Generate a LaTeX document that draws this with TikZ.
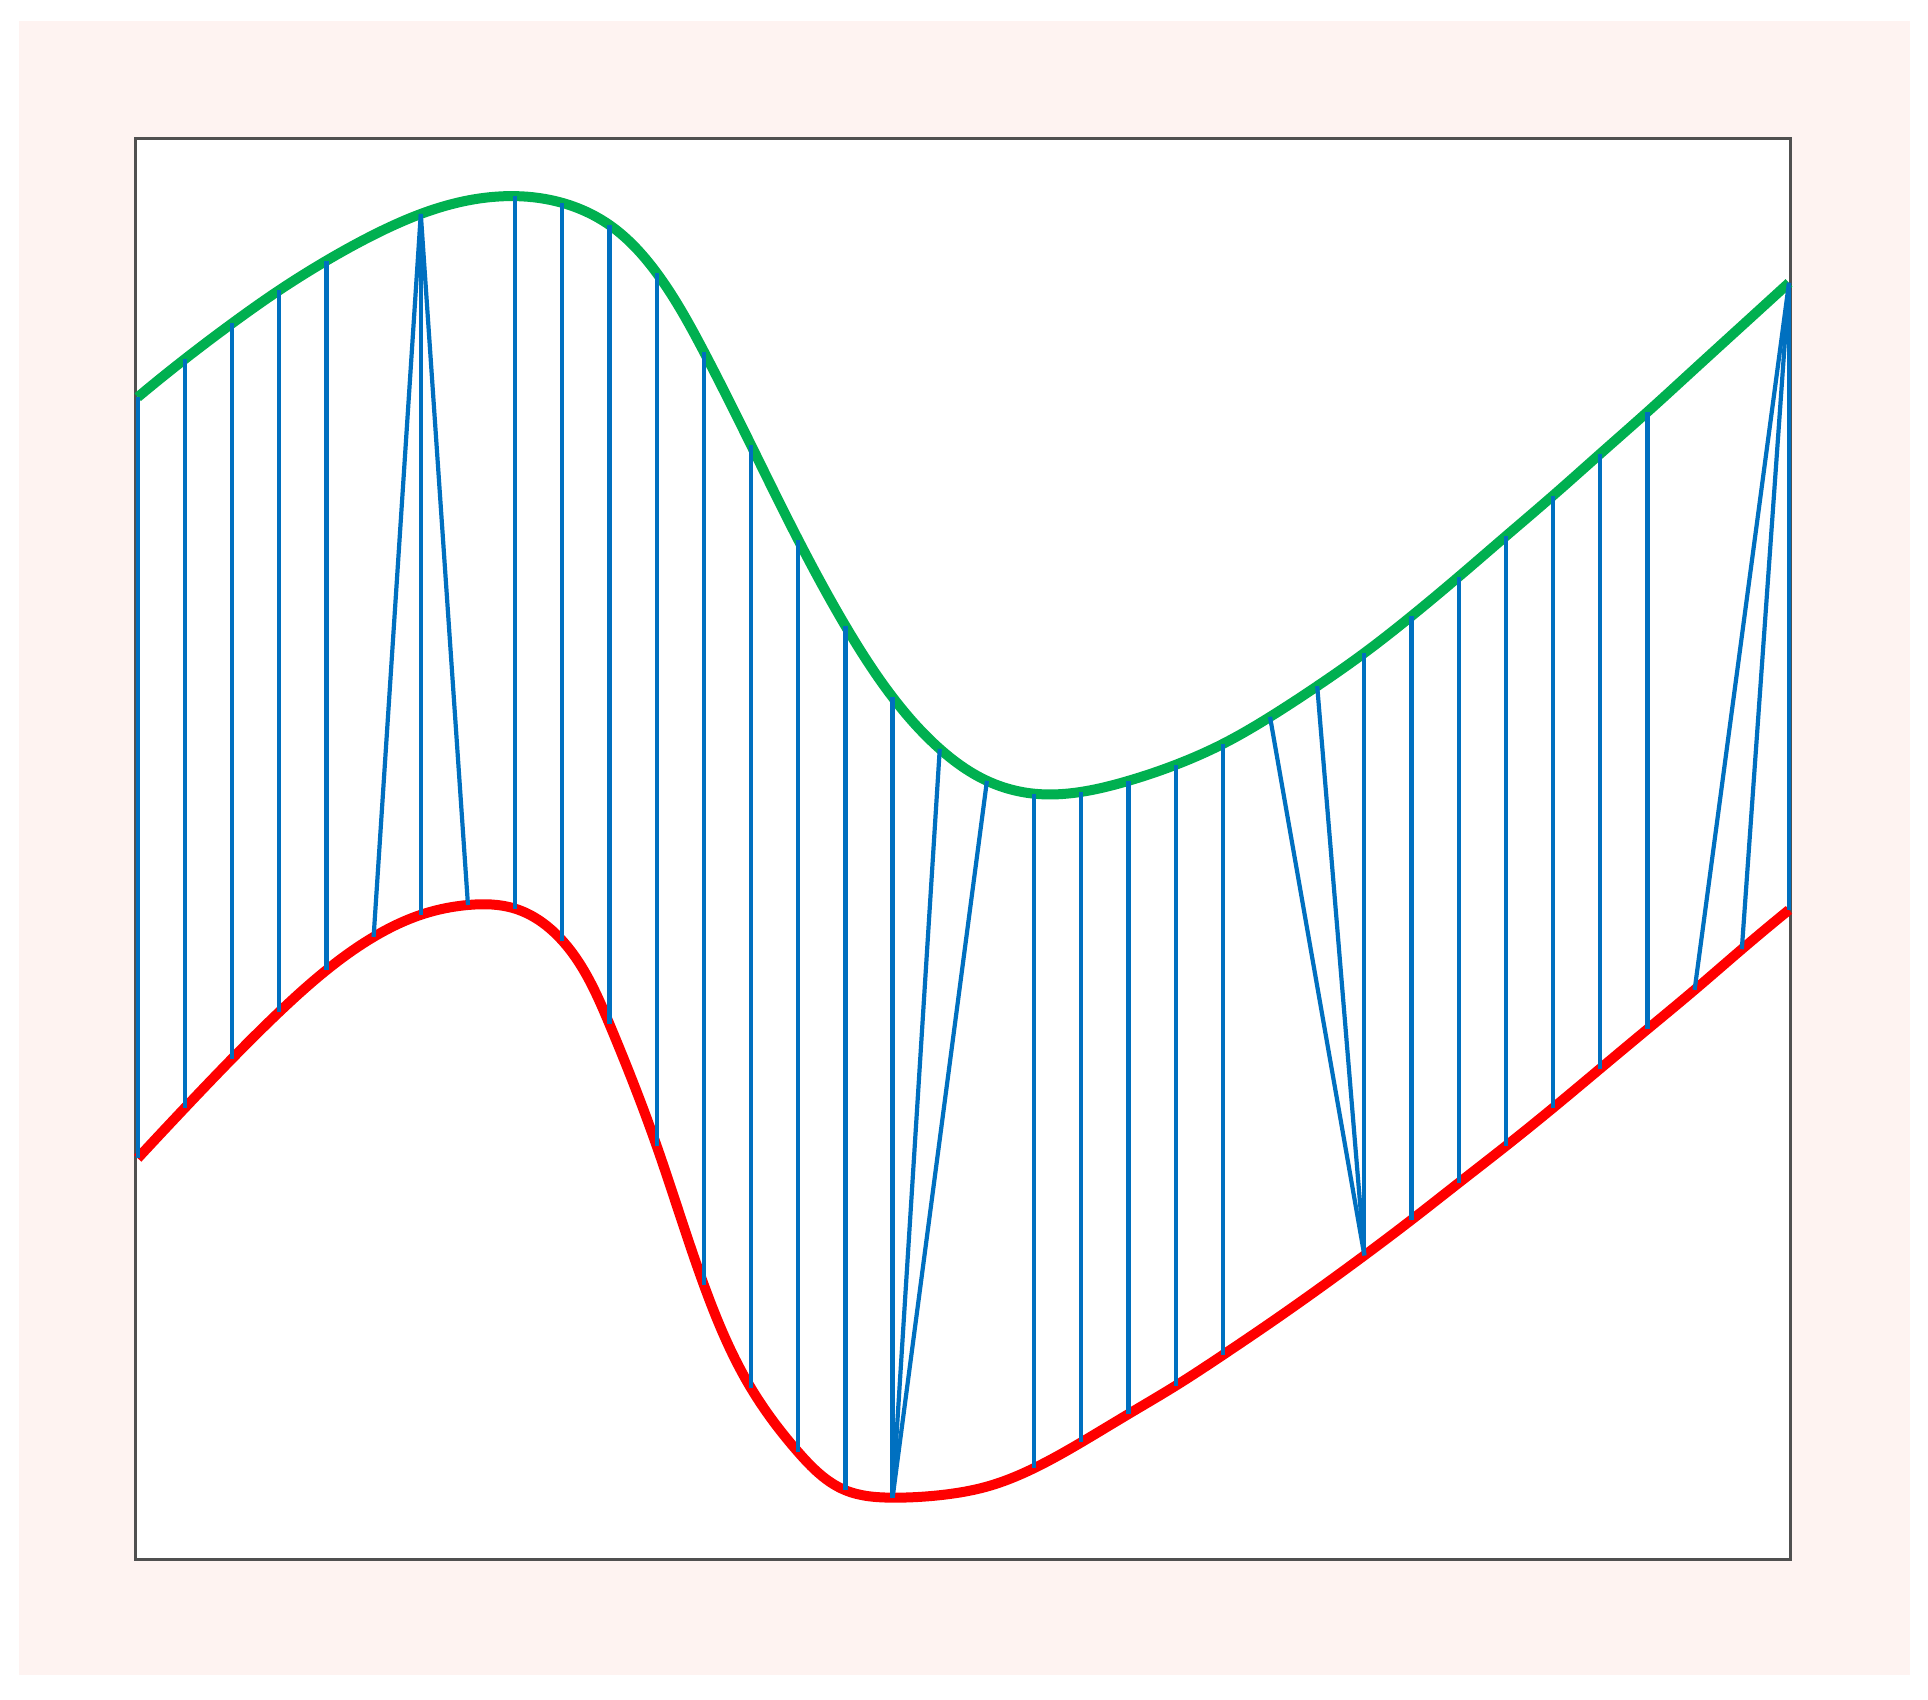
\documentclass[tikz,border=0pt]{standalone}
\usetikzlibrary{hobby}
\definecolor{bgpink}{RGB}{254,243,241}
\definecolor{curvegreen}{RGB}{0,176,80}
\definecolor{curvered}{RGB}{255,0,0}
\definecolor{linkblue}{RGB}{0,112,192}
\definecolor{framegray}{RGB}{80,80,80}
\begin{document}
\begin{tikzpicture}[x=0.6148pt,y=-0.6148pt,
  greencurve/.style={draw=curvegreen,line width=5pt,line join=round},
  redcurve/.style={draw=curvered,line width=5pt,line join=round},
  link/.style={draw=linkblue,line width=2.1pt},
  axesframe/.style={draw=framegray,line width=1.4pt,fill=white}]
\useasboundingbox (0,0) rectangle (1568,1382);
\fill[bgpink] (15.5,17) rectangle (1553.5,1362);
\draw[axesframe] (110,112.5) rectangle (1456,1268);
\foreach \yv [count=\i from 0] in {323,292,263,236,212,191,174,163,159.5,165,183,222,286,362,439,509,567,609,635,645.5,644,635,622,605,583,558,531,501,469,436,403,369,335,300,265,230}
  {\coordinate (t\i) at ({112+38.37*\i},\yv);}
\foreach \yv [count=\i from 0] in {942,901,861,823,789,762,744,736,739,765,833,932,1045,1129,1181,1212,1218,1216,1209,1194,1173,1150,1127,1102,1076,1049,1021,992,962,932,901,869,837,805,772,740}
  {\coordinate (b\i) at ({112+38.37*\i},\yv);}
\draw[greencurve,use Hobby shortcut] (t0) .. (t1) .. (t2) .. (t3) .. (t4) .. (t5) .. (t6) .. (t7) .. (t8) .. (t9) .. (t10) .. (t11) .. (t12) .. (t13) .. (t14) .. (t15) .. (t16) .. (t17) .. (t18) .. (t19) .. (t20) .. (t21) .. (t22) .. (t23) .. (t24) .. (t25) .. (t26) .. (t27) .. (t28) .. (t29) .. (t30) .. (t31) .. (t32) .. (t33) .. (t34) .. (t35);
\draw[redcurve,use Hobby shortcut] (b0) .. (b1) .. (b2) .. (b3) .. (b4) .. (b5) .. (b6) .. (b7) .. (b8) .. (b9) .. (b10) .. (b11) .. (b12) .. (b13) .. (b14) .. (b15) .. (b16) .. (b17) .. (b18) .. (b19) .. (b20) .. (b21) .. (b22) .. (b23) .. (b24) .. (b25) .. (b26) .. (b27) .. (b28) .. (b29) .. (b30) .. (b31) .. (b32) .. (b33) .. (b34) .. (b35);
\foreach \a/\b in {0/0,1/1,2/2,3/3,4/4,6/5,6/6,6/7,8/8,9/9,10/10,11/11,12/12,13/13,14/14,15/15,16/16,17/16,18/16,19/19,20/20,21/21,22/22,23/23,24/26,25/26,26/26,27/27,28/28,29/29,30/30,31/31,32/32,35/33,35/34,35/35}
  {\draw[link] (t\a) -- (b\b);}
\end{tikzpicture}
\end{document}
